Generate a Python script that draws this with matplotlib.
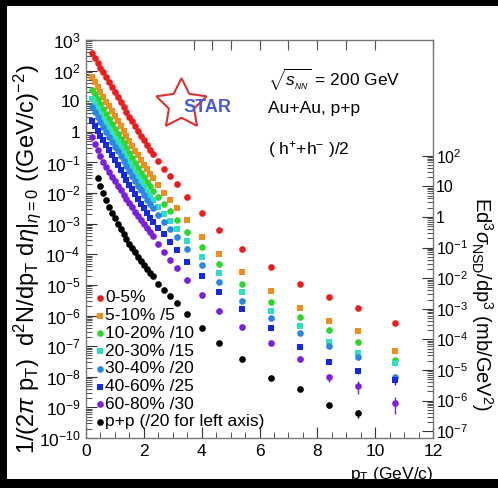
import numpy as np
import matplotlib.pyplot as plt
from matplotlib.ticker import FixedLocator, NullFormatter
from matplotlib.patches import Rectangle

plt.rcParams['font.family'] = ['Liberation Sans', 'DejaVu Sans']
plt.rcParams['mathtext.fontset'] = 'custom'
plt.rcParams['mathtext.rm'] = 'Liberation Sans'
plt.rcParams['mathtext.it'] = 'Liberation Sans:italic'
plt.rcParams['mathtext.bf'] = 'Liberation Sans:bold'

# pT bins (GeV/c)
pt_auau = [0.2, 0.3, 0.4, 0.5, 0.6, 0.7, 0.8, 0.9, 1.0, 1.1, 1.2, 1.3, 1.4, 1.5, 1.6,
           1.7, 1.8, 1.9, 2.0, 2.1, 2.2, 2.3, 2.5, 2.7, 2.9, 3.15, 3.5, 4.0, 4.6, 5.4,
           6.4, 7.4, 8.4, 9.4, 10.7]
pt_pp = [0.4, 0.5, 0.6, 0.7, 0.8, 0.9, 1.0, 1.1, 1.2, 1.3, 1.4, 1.5, 1.6, 1.7, 1.8,
         1.9, 2.0, 2.1, 2.2, 2.3, 2.5, 2.7, 2.9, 3.15, 3.5, 4.0, 4.6, 5.4, 6.4, 7.4,
         8.4, 9.4]

# log10 of 1/(2pi pT) d2N/dpT deta (left axis, scaled)
log_0_5 = [2.58, 2.42, 2.26, 2.10, 1.94, 1.78, 1.62, 1.46, 1.30, 1.14, 0.98, 0.82, 0.66,
           0.50, 0.34, 0.18, 0.02, -0.13, -0.28, -0.43, -0.58, -0.72, -0.95, -1.20, -1.43,
           -1.70, -2.12, -2.65, -3.22, -3.83, -4.43, -4.97, -5.40, -5.76, -6.25]
log_5_10 = [1.79, 1.63, 1.47, 1.31, 1.15, 0.99, 0.83, 0.67, 0.51, 0.35, 0.19, 0.03, -0.13,
            -0.29, -0.45, -0.61, -0.77, -0.92, -1.07, -1.22, -1.37, -1.51, -1.74, -1.99,
            -2.22, -2.49, -2.88, -3.44, -4.00, -4.58, -5.20, -5.76, -6.18, -6.51, -7.16]
log_10_20 = [1.38, 1.22, 1.06, 0.90, 0.74, 0.58, 0.42, 0.26, 0.10, -0.06, -0.22, -0.38,
             -0.54, -0.70, -0.86, -1.02, -1.18, -1.33, -1.48, -1.63, -1.78, -1.92, -2.12,
             -2.36, -2.60, -2.87, -3.27, -3.76, -4.32, -4.97, -5.56, -6.05, -6.48, -6.87,
             -7.45]
log_20_30 = [1.06, 0.90, 0.74, 0.58, 0.42, 0.26, 0.10, -0.06, -0.22, -0.38, -0.54, -0.70,
             -0.86, -1.02, -1.18, -1.34, -1.50, -1.65, -1.80, -1.95, -2.10, -2.24, -2.45,
             -2.68, -2.90, -3.17, -3.57, -4.09, -4.61, -5.24, -5.86, -6.35, -6.87, -7.23,
             -7.55]
log_30_40 = [0.80, 0.64, 0.48, 0.32, 0.16, 0.00, -0.16, -0.32, -0.48, -0.64, -0.80, -0.96,
             -1.12, -1.28, -1.44, -1.60, -1.76, -1.91, -2.06, -2.21, -2.36, -2.50, -2.71,
             -2.94, -3.16, -3.43, -3.83, -4.35, -4.90, -5.53, -6.08, -6.58, -7.00, -7.36,
             -8.00]
log_40_60 = [0.36, 0.20, 0.04, -0.12, -0.28, -0.44, -0.60, -0.76, -0.92, -1.08, -1.24,
             -1.40, -1.56, -1.72, -1.88, -2.04, -2.20, -2.35, -2.50, -2.65, -2.80, -2.94,
             -3.13, -3.34, -3.60, -3.85, -4.25, -4.71, -5.24, -5.79, -6.41, -7.03, -7.52,
             -7.82, -8.11]
log_60_80 = [-0.17, -0.40, -0.60, -0.79, -0.97, -1.14, -1.30, -1.46, -1.61, -1.76, -1.91,
             -2.05, -2.19, -2.33, -2.47, -2.61, -2.75, -2.88, -3.01, -3.14, -3.27, -3.40,
             -3.66, -3.92, -4.17, -4.45, -4.84, -5.33, -5.86, -6.38, -6.90, -7.42, -8.01,
             -8.31, -8.86]
log_pp = [-1.51, -1.77, -2.01, -2.23, -2.44, -2.64, -2.83, -3.01, -3.18, -3.34, -3.50,
          -3.65, -3.80, -3.94, -4.08, -4.21, -4.34, -4.47, -4.60, -4.72, -4.96, -5.17,
          -5.37, -5.60, -5.96, -6.41, -6.90, -7.42, -8.03, -8.41, -8.93, -9.19]

# relative errors of the last high-pT points (pT = 6.4 ... 10.7)
relerr_auau = {
    '0-5%': [0.04, 0.05, 0.07, 0.09, 0.12],
    '5-10%': [0.05, 0.07, 0.09, 0.12, 0.18],
    '10-20%': [0.05, 0.07, 0.09, 0.12, 0.18],
    '20-30%': [0.06, 0.08, 0.10, 0.14, 0.22],
    '30-40%': [0.06, 0.08, 0.12, 0.16, 0.25],
    '40-60%': [0.07, 0.09, 0.13, 0.18, 0.30],
    '60-80%': [0.10, 0.15, 0.30, 0.45, 0.55],
}
relerr_pp = [0.08, 0.12, 0.18, 0.28]

labels = ['0-5%', '5-10% /5', '10-20% /10', '20-30% /15', '30-40% /20',
          '40-60% /25', '60-80% /30', 'p+p (/20 for left axis)']
colors = ['#ee1c1c', '#f28c1e', '#2fd62f', '#2ee0c0', '#2a86e6', '#1428e6',
          '#7a1ee0', 'black']
markers = ['o', 's', 'o', 's', 'o', 's', 'o', 'o']

series = [log_0_5, log_5_10, log_10_20, log_20_30, log_30_40, log_40_60, log_60_80]
keys = ['0-5%', '5-10%', '10-20%', '20-30%', '30-40%', '40-60%', '60-80%']

fig = plt.figure(figsize=(4.98, 4.88), dpi=100, facecolor='black')
fig.patches.append(Rectangle((7 / 498, 9 / 488), 1 - 7 / 498, 1 - 15 / 488,
                             transform=fig.transFigure, facecolor='white',
                             edgecolor='none', zorder=-10))
ax = fig.add_axes([86 / 498, 1 - 438 / 488, 347 / 498, 398 / 488])
ax.set_facecolor('white')

for vals, key, c, m in zip(series, keys, colors, markers):
    y = 10 ** np.array(vals)
    ms = 4.8 if m == 'o' else 4.4
    ax.plot(pt_auau, y, ls='none', marker=m, color=c, ms=ms, mew=0, zorder=3)
    tail = y[-5:]
    err = tail * np.array(relerr_auau[key])
    ax.errorbar(pt_auau[-5:], tail, yerr=err, fmt='none', ecolor=c, elinewidth=1,
                zorder=2)

ypp = 10 ** np.array(log_pp)
ax.plot(pt_pp, ypp, ls='none', marker='o', color='black', ms=4.8, mew=0, zorder=3)
ax.errorbar(pt_pp[-4:], ypp[-4:], yerr=ypp[-4:] * np.array(relerr_pp), fmt='none',
            ecolor='black', elinewidth=1, zorder=2)

ax.set_yscale('log')
ax.set_xlim(0, 12)
ax.set_ylim(1e-10, 1e3)

# left axis ticks
decades = list(range(-10, 4))
dec_labels = []
for d in decades:
    if d == 0:
        dec_labels.append('1')
    elif d == 1:
        dec_labels.append('10')
    else:
        dec_labels.append(r'10$^{%d}$' % d)
ax.yaxis.set_major_locator(FixedLocator([10.0 ** d for d in decades]))
ax.set_yticklabels(dec_labels)
minors = [k * 10.0 ** d for d in range(-10, 3) for k in range(2, 10)]
ax.yaxis.set_minor_locator(FixedLocator(minors))
ax.yaxis.set_minor_formatter(NullFormatter())

ax.set_xticks([0, 2, 4, 6, 8, 10, 12])
ax.xaxis.set_minor_locator(FixedLocator(np.arange(0, 12.01, 0.5)))
ax.tick_params(which='both', direction='in', top=False, right=False,
               labelsize=12.5, colors='#333333', labelcolor='black')
ax.tick_params(which='major', length=8, width=0.8, pad=4)
ax.tick_params(which='minor', length=4, width=0.6)
for sp in ax.spines.values():
    sp.set_color('#777777')
    sp.set_linewidth(1.0)

# top ticks at bin edges
bin_edges = [3.75, 4.35, 5.0, 6.0, 7.0, 8.0, 9.0, 10.0, 12.0]
axt = ax.secondary_xaxis('top')
axt.set_xticks(bin_edges)
axt.set_xticklabels([])
axt.tick_params(direction='in', length=7, width=0.8, colors='#555555')
axt.spines['top'].set_visible(False)

# right axis: Ed3sigma/dp3 = left * 20 * 30 mb
scale = 600.0
ax2 = ax.secondary_yaxis('right', functions=(lambda v: v * scale, lambda v: v / scale))
rdec = list(range(-7, 3))
rlabels = []
for d in rdec:
    if d == 0:
        rlabels.append('1')
    elif d == 1:
        rlabels.append('10')
    else:
        rlabels.append(r'10$^{%d}$' % d)
ax2.set_yticks([10.0 ** d for d in rdec])
ax2.set_yticklabels(rlabels)
ax2.yaxis.set_minor_locator(FixedLocator([k * 10.0 ** d for d in range(-7, 2)
                                          for k in range(2, 10)]))
ax2.yaxis.set_minor_formatter(NullFormatter())
ax2.tick_params(which='both', direction='in', labelsize=11.5, colors='#333333',
                labelcolor='black')
ax2.tick_params(which='major', length=8, width=0.8, pad=2)
ax2.tick_params(which='minor', length=4, width=0.6)
ax2.spines['right'].set_visible(False)

# legend drawn by hand
for i, (lab, c, m) in enumerate(zip(labels, colors, markers)):
    yy = (438 - (298 + i * 17.7)) / 398
    ax.plot([0.04], [yy], transform=ax.transAxes, marker=m, color=c,
            ms=4.8 if m == 'o' else 4.4, mew=0, ls='none', clip_on=False)
    ax.text(0.056, yy, lab, transform=ax.transAxes, fontsize=12.5,
            va='center', ha='left')

# annotations
ax.text((268 - 86) / 347, (438 - 80) / 398, r'$\sqrt{s_{_{NN}}}$ = 200 GeV',
        transform=ax.transAxes, fontsize=12.5, va='center', ha='left')
ax.text((268 - 86) / 347, (438 - 108) / 398, 'Au+Au, p+p',
        transform=ax.transAxes, fontsize=12.5, va='center', ha='left')
ax.text((268 - 86) / 347, (438 - 150) / 398, r'( h$^{+}$+h$^{-}$ )/2',
        transform=ax.transAxes, fontsize=12.5, va='center', ha='left')

# STAR logo
ax.plot([(181 - 86) / 347], [(438 - 104) / 398], transform=ax.transAxes,
        marker=(5, 1, 0), ms=38, mfc='none', mec='#e03030', mew=1.5, ls='none')
ax.text((207 - 86) / 347, (438 - 107) / 398, 'STAR', transform=ax.transAxes,
        fontsize=13, fontweight='bold', color='#4a5ad0', va='center', ha='center')

# axis titles
fig.text(27 / 498, 1 - 259 / 488,
         r'1/(2$\pi$ p$_{\rm T}$)  d$^{2}$N/dp$_{\rm T}$ d$\eta$|$_{\eta = 0}$ ((GeV/c)$^{-2}$)',
         rotation=90, ha='center', va='center', fontsize=17)
fig.text(482 / 498, 1 - 304 / 488,
         r'Ed$^{3}\sigma_{\rm NSD}$/dp$^{3}$ (mb/GeV$^{2}$)',
         rotation=270, ha='center', va='center', fontsize=14.5)
fig.text(433 / 498, 1 - 475 / 488, r'p$_{\rm T}$ (GeV/c)', ha='right', va='center',
         fontsize=12.5)

fig.savefig('out.png', dpi=100, facecolor=fig.get_facecolor())
